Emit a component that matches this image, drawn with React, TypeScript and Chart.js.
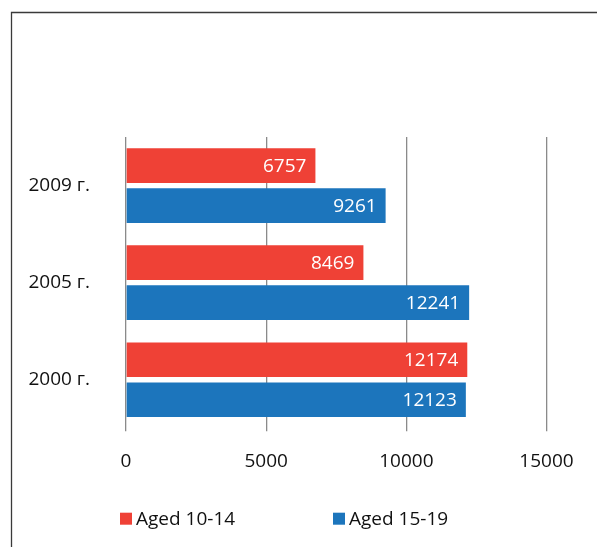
import React, { useEffect, useRef } from "react";
import { Chart, registerables } from "chart.js";

Chart.register(...registerables);

const years = ["2009 г.", "2005 г.", "2000 г."];
const aged10to14 = [6757, 8469, 12174];
const aged15to19 = [9261, 12241, 12123];
const seriesNames = ["Aged 10-14", "Aged 15-19"];
const seriesColors = ["#EF4136", "#1C75BC"];
const xTicks = [0, 5000, 10000, 15000];

const FONT = "'Open Sans', 'Noto Sans', sans-serif";
const FONT_SIZE = 19;

// Thin frame around the figure (left and top edges visible)
const framePlugin = {
  id: "frame",
  beforeDraw(chart: any) {
    const ctx = chart.ctx;
    ctx.save();
    ctx.fillStyle = "#ffffff";
    ctx.fillRect(0, 0, chart.width, chart.height);
    ctx.strokeStyle = "#3a3a3a";
    ctx.lineWidth = 1.3;
    ctx.beginPath();
    ctx.moveTo(11.5, chart.height + 2);
    ctx.lineTo(11.5, 12.5);
    ctx.lineTo(chart.width + 2, 12.5);
    ctx.stroke();
    ctx.restore();
  },
};

// Values written inside the end of each bar
const valueLabelPlugin = {
  id: "valueLabels",
  afterDatasetsDraw(chart: any) {
    const ctx = chart.ctx;
    ctx.save();
    ctx.font = `${FONT_SIZE}px ${FONT}`;
    ctx.fillStyle = "#ffffff";
    ctx.textAlign = "right";
    ctx.textBaseline = "middle";
    chart.data.datasets.forEach((ds: any, di: number) => {
      const meta = chart.getDatasetMeta(di);
      meta.data.forEach((bar: any, i: number) => {
        ctx.fillText(String(ds.data[i]), bar.x - 9, bar.y + 1);
      });
    });
    ctx.restore();
  },
};

// Legend row under the axis
const legendPlugin = {
  id: "bottomLegend",
  afterDraw(chart: any) {
    const ctx = chart.ctx;
    const starts = [120, 333];
    const box = 12;
    const cy = 518.7;
    ctx.save();
    ctx.font = `${FONT_SIZE}px ${FONT}`;
    ctx.textAlign = "left";
    ctx.textBaseline = "middle";
    chart.data.datasets.forEach((ds: any, i: number) => {
      const x = starts[i];
      ctx.fillStyle = ds.backgroundColor;
      ctx.fillRect(x, cy - box / 2, box, box);
      ctx.fillStyle = "#111111";
      ctx.fillText(ds.label, x + box + 4, cy + 1);
    });
    ctx.restore();
  },
};

export default function App() {
  const canvasRef = useRef<HTMLCanvasElement | null>(null);

  useEffect(() => {
    if (!canvasRef.current) return;
    const chart = new Chart(canvasRef.current, {
      type: "bar",
      data: {
        labels: years,
        datasets: [
          {
            label: seriesNames[0],
            data: aged10to14,
            backgroundColor: seriesColors[0],
            categoryPercentage: 0.824,
            barPercentage: 0.8675,
          },
          {
            label: seriesNames[1],
            data: aged15to19,
            backgroundColor: seriesColors[1],
            categoryPercentage: 0.824,
            barPercentage: 0.8675,
          },
        ],
      },
      options: {
        indexAxis: "y",
        responsive: false,
        maintainAspectRatio: false,
        animation: false,
        events: [],
        layout: {
          padding: { top: 137, left: 12, right: 50.5, bottom: 78.7 },
        },
        plugins: {
          legend: { display: false },
          tooltip: { enabled: false },
          title: { display: false },
        },
        scales: {
          x: {
            type: "linear",
            min: 0,
            max: 15000,
            afterBuildTicks(scale: any) {
              scale.ticks = xTicks.map((v) => ({ value: v }));
            },
            afterFit(scale: any) {
              scale.height = 40;
            },
            grid: {
              color: "#8a8a8a",
              lineWidth: 1.3,
              drawTicks: true,
              tickLength: 3,
            },
            border: { display: false },
            ticks: {
              padding: 19,
              color: "#111111",
              font: { family: FONT, size: FONT_SIZE },
              callback: (v: any) => String(v),
            },
          },
          y: {
            type: "category",
            afterFit(scale: any) {
              scale.width = 114;
            },
            grid: { display: false, drawTicks: false },
            border: { display: false },
            ticks: {
              padding: 36,
              color: "#111111",
              font: { family: FONT, size: FONT_SIZE },
            },
          },
        },
      },
      plugins: [framePlugin, valueLabelPlugin, legendPlugin],
    });
    return () => chart.destroy();
  }, []);

  return (
    <div style={{ position: "fixed", left: 0, top: 0, width: 597, height: 547 }}>
      <canvas ref={canvasRef} width={597} height={547} style={{ display: "block" }} />
    </div>
  );
}
